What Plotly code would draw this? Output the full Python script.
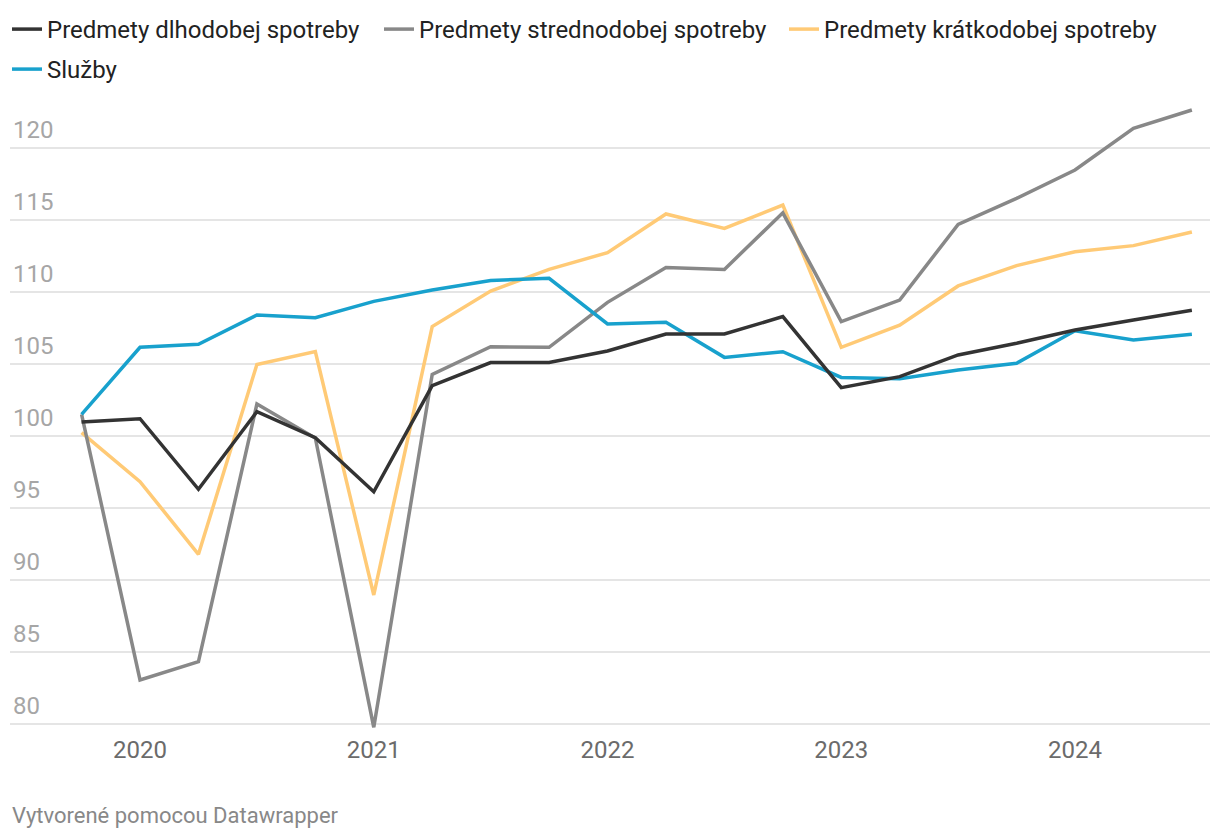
import plotly.graph_objects as go

quarters = ["2019 Q4", "2020 Q1", "2020 Q2", "2020 Q3", "2020 Q4", "2021 Q1", "2021 Q2",
            "2021 Q3", "2021 Q4", "2022 Q1", "2022 Q2", "2022 Q3", "2022 Q4", "2023 Q1",
            "2023 Q2", "2023 Q3", "2023 Q4", "2024 Q1", "2024 Q2", "2024 Q3"]

dlhodobej = [100.97, 101.2, 96.3, 101.69, 99.88, 96.13, 103.5, 105.1, 105.1, 105.9,
             107.08, 107.08, 108.29, 103.36, 104.12, 105.63, 106.44, 107.36, 108.06, 108.73]
strednodobej = [101.5, 83.06, 84.33, 102.22, 99.86, 79.77, 104.28, 106.2, 106.16, 109.28,
                111.7, 111.57, 115.5, 107.94, 109.44, 114.7, 116.5, 118.47, 121.37, 122.64]
kratkodobej = [100.23, 96.83, 91.78, 104.97, 105.86, 88.96, 107.6, 110.07, 111.57, 112.73,
               115.42, 114.42, 116.04, 106.16, 107.69, 110.42, 111.83, 112.8, 113.22, 114.17]
sluzby = [101.5, 106.16, 106.37, 108.4, 108.22, 109.35, 110.14, 110.8, 110.95, 107.78,
          107.9, 105.46, 105.85, 104.07, 103.98, 104.58, 105.05, 107.31, 106.67, 107.06]

series_names = ["Predmety dlhodobej spotreby", "Predmety strednodobej spotreby",
                "Predmety krátkodobej spotreby", "Služby"]
series_values = [dlhodobej, strednodobej, kratkodobej, sluzby]
series_colors = ["#333333", "#888888", "#ffca76", "#18a1cd"]
legend_ids = ["legend", "legend2", "legend3", "legend4"]

year_ticks = ["2020 Q1", "2021 Q1", "2022 Q1", "2023 Q1", "2024 Q1"]
year_labels = ["2020", "2021", "2022", "2023", "2024"]
y_ticks = [80, 85, 90, 95, 100, 105, 110, 115, 120]

FONT = "Roboto"

fig = go.Figure()
# draw order: yellow, gray, blue, black on top
draw_order = [2, 1, 3, 0]
for i in draw_order:
    fig.add_trace(go.Scatter(
        x=quarters, y=series_values[i], mode="lines", name=series_names[i],
        line=dict(color=series_colors[i], width=3.5),
        legend=legend_ids[i], hoverinfo="skip",
    ))

legend_font = dict(family=FONT, size=24, color="#222222")
# plot area spans x 10..1210 px, y 100..730 px
def lx(px):
    return (px - 10) / 1200.0

def ly(px):
    return (730 - px) / 630.0

leg_common = dict(orientation="h", xanchor="left", yanchor="top", font=legend_font,
                  bgcolor="rgba(0,0,0,0)", borderwidth=0)

fig.update_layout(
    width=1220, height=840,
    margin=dict(l=10, r=10, t=100, b=110, autoexpand=False),
    paper_bgcolor="white", plot_bgcolor="white",
    showlegend=True,
    legend=dict(x=lx(7), y=ly(7), **leg_common),
    legend2=dict(x=lx(379), y=ly(7), **leg_common),
    legend3=dict(x=lx(784), y=ly(7), **leg_common),
    legend4=dict(x=lx(7), y=ly(47), **leg_common),
    xaxis=dict(
        type="category",
        categoryorder="array", categoryarray=quarters,
        range=[-1.225, 19.31],
        tickmode="array", tickvals=year_ticks, ticktext=year_labels,
        showgrid=False, zeroline=False, showline=False, ticks="",
        tickfont=dict(family=FONT, size=24, color="#6b6b6b"),
        ticklabelstandoff=3,
        fixedrange=True,
    ),
    yaxis=dict(
        range=[79.583, 123.333],
        tickmode="array", tickvals=y_ticks,
        ticklabelposition="inside top",
        ticklabelshift=-2,
        showgrid=True, gridcolor="#e5e5e5", gridwidth=2,
        zeroline=False, showline=False, ticks="",
        tickfont=dict(family=FONT, size=24, color="#a6a6a6"),
        fixedrange=True,
    ),
    annotations=[dict(
        text="Vytvorené pomocou Datawrapper", xref="paper", yref="paper",
        x=lx(10), y=ly(815), xanchor="left", yanchor="middle", showarrow=False,
        font=dict(family=FONT, size=22, color="#888888"),
    )],
)

fig.write_html("out.html")
